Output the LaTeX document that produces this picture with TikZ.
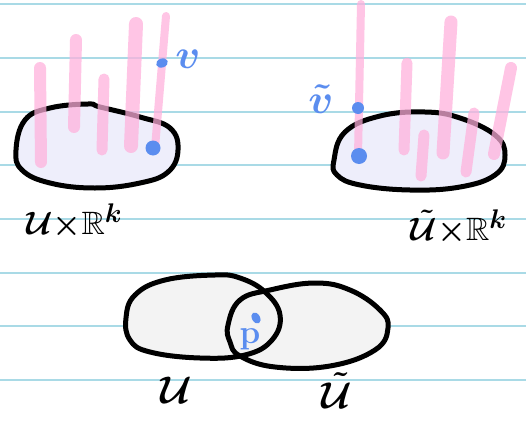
\documentclass[tikz,border=0pt]{standalone}
\usepackage{amssymb}
\usepackage{amsmath}
\usepackage{graphicx}
\begin{document}
\begin{tikzpicture}[x=1pt,y=-1pt,
  ruled/.style={draw=rulecol,line width=1.3},
  outline/.style={draw=black,line width=5,line join=round},
  pinkbar/.style={draw=pinkc,opacity=0.72,line cap=round},
  lab/.style={font=\fontsize{24.88}{26}\selectfont\boldmath,inner sep=0pt},
  bluelab/.style={text=bluec,font=\fontsize{20.74}{22}\selectfont\boldmath,inner sep=0pt}]
\definecolor{rulecol}{HTML}{A9DAE6}
\definecolor{pinkc}{HTML}{FFB0DC}
\definecolor{bluec}{HTML}{5B8DEF}
\definecolor{lavc}{HTML}{EEEEFB}
\definecolor{grayc}{HTML}{F3F3F3}
\useasboundingbox (0,0) rectangle (526,420);
\fill[white] (0,0) rectangle (526,420);
% ruled lines
\foreach \yy in {4,58,112,165,219,273,326,380}
  \draw[ruled] (0,\yy) -- (526,\yy);
% top-left blob
\path[fill=lavc] plot[smooth cycle,tension=0.7] coordinates {(16,150) (25,120) (50,108) (88,104) (100,107) (140,117) (170,128) (178,150) (168,172) (140,183) (95,188) (50,183) (22,170)};
\path[outline] plot[smooth cycle,tension=0.7] coordinates {(16,150) (25,120) (50,108) (88,104) (100,107) (140,117) (170,128) (178,150) (168,172) (140,183) (95,188) (50,183) (22,170)};
% pink bars left
\draw[pinkbar,line width=12] (40,68) -- (41,162);
\draw[pinkbar,line width=12] (76,40) -- (74,127);
\draw[pinkbar,line width=11] (104,79) -- (102,150);
\draw[pinkbar,line width=14] (136,24) -- (131,146);
\draw[pinkbar,line width=8] (166,16) -- (155,148);
\fill[bluec] (153,148) circle (7.5) coordinate (dotA);
\fill[bluec,rotate around={20:(162,63)}] (162,63) ellipse (6 and 4.5);
\node[bluelab] (vA) at (188,59) {\scalebox{2}{$v$}};
\node[lab,anchor=base west] (labA) at (26,234) {\scalebox{1.3}{$\mathcal{U}{\times}\mathbb{R}^{k}$}};
% top-right blob
\path[fill=lavc] plot[smooth cycle,tension=0.7] coordinates {(334,160) (345,132) (380,116) (425,112) (460,118) (495,135) (505,155) (495,175) (460,187) (410,190) (360,185) (337,175)};
\path[outline] plot[smooth cycle,tension=0.7] coordinates {(334,160) (345,132) (380,116) (425,112) (460,118) (495,135) (505,155) (495,175) (460,187) (410,190) (360,185) (337,175)};
\draw[pinkbar,line width=8] (361,4) -- (358,156);
\draw[pinkbar,line width=11] (407,63) -- (404,150);
\draw[pinkbar,line width=11] (424,135) -- (421,176);
\draw[pinkbar,line width=13] (451,22) -- (443,153);
\draw[pinkbar,line width=11] (474,113) -- (466,172);
\draw[pinkbar,line width=12] (511,68) -- (494,154);
\fill[bluec] (358,108) circle (6) coordinate (dotB);
\fill[bluec] (359,156) circle (8) coordinate (dotC);
\node[bluelab] (vB) at (321,99) {\scalebox{2}{$\tilde{v}$}};
\node[lab,anchor=base east] (labB) at (507,240) {\scalebox{1.3}{$\tilde{\mathcal{U}}{\times}\mathbb{R}^{k}$}};
% bottom blobs
\path[fill=grayc] plot[smooth cycle,tension=0.7] coordinates {(126,318) (135,295) (165,280) (215,275) (240,278) (265,292) (280,315) (272,340) (245,355) (200,358) (150,352) (130,340)};
\path[fill=grayc] plot[smooth cycle,tension=0.7] coordinates {(228,325) (240,300) (270,290) (315,283) (350,290) (380,310) (388,328) (375,350) (330,366) (275,367) (240,356) (230,342)};
\path[outline] plot[smooth cycle,tension=0.7] coordinates {(126,318) (135,295) (165,280) (215,275) (240,278) (265,292) (280,315) (272,340) (245,355) (200,358) (150,352) (130,340)};
\path[outline] plot[smooth cycle,tension=0.7] coordinates {(228,325) (240,300) (270,290) (315,283) (350,290) (380,310) (388,328) (375,350) (330,366) (275,367) (240,356) (230,342)};
\fill[bluec,rotate around={30:(256,318)}] (256,318) ellipse (4 and 6);
\node[bluelab,font=\fontsize{20.74}{22}\selectfont\bfseries] (pP) at (250,339) {\scalebox{1.6}{p}};
\node[lab,anchor=base] (labC) at (176,403) {\scalebox{1.55}{$\mathcal{U}$}};
\node[lab,anchor=base] (labD) at (337,408) {\scalebox{1.5}{$\tilde{\mathcal{U}}$}};
\end{tikzpicture}
\end{document}
